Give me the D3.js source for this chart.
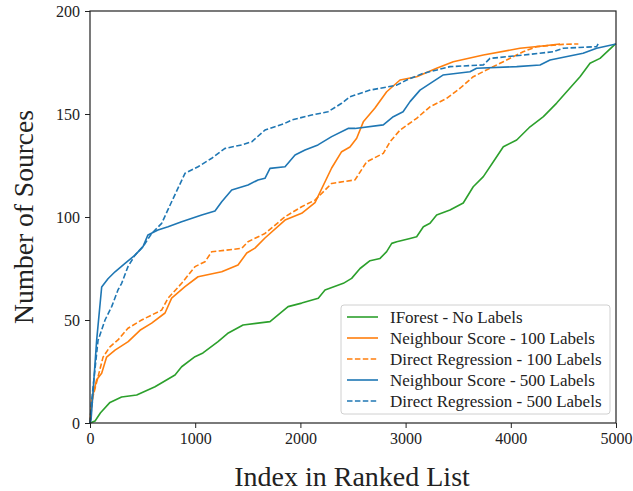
<!DOCTYPE html>
<html>
<head>
<meta charset="utf-8">
<script src="https://cdn.jsdelivr.net/npm/d3@7"></script>
<style>
  html, body { margin: 0; padding: 0; background: #fff; }
  svg { display: block; }
  text { font-family: "Liberation Serif", "DejaVu Serif", serif; fill: #222; }
</style>
</head>
<body>
<svg id="chart" width="633" height="491"></svg>
<script>
// Cumulative number of sources found versus position in the ranked list.
const iforestNoLabels = [
  [0,0],[48,1],[100,5],[190,10],[300,12.6],[444,13.6],[618,17.6],[808,23.3],[871,27.3],
  [998,32.2],[1074,34],[1217,39.5],[1315,43.7],[1455,47.6],[1711,49.2],[1883,56.5],
  [2012,58.2],[2170,60.6],[2234,64.6],[2408,67.8],[2487,70.2],[2567,75],[2662,78.8],
  [2757,79.9],[2820,83.2],[2868,87.2],[2916,88],[3042,89.6],[3105,90.4],[3169,95.3],
  [3232,97],[3295,101],[3422,103.4],[3548,106.8],[3643,114.7],[3739,119.6],[3834,126.8],
  [3929,134.1],[4056,137.4],[4183,143.8],[4310,148.7],[4436,155.3],[4531,160.8],
  [4658,168.1],[4753,174.6],[4848,177],[4990,183.8],[5000,184]
];
const neighbour100 = [
  [0,0],[16,11],[63,21],[111,24.2],[158,32],[238,35.4],[363,39.5],[475,45],[586,48.5],
  [713,53.4],[776,60.6],[903,66.2],[1027,71],[1252,73.4],[1407,76.7],[1490,82.5],
  [1568,84.9],[1663,89.8],[1854,98.5],[2012,101.8],[2139,107],[2297,123.8],[2392,131.7],
  [2471,134],[2535,138.2],[2598,146.2],[2709,152.9],[2820,160.8],[2947,166.5],
  [3105,168.1],[3295,172.2],[3453,175.4],[3739,178.6],[4087,181.9],[4300,183],[4468,184]
];
const direct100 = [
  [0,0],[28,12.8],[124,32],[190,37],[266,40.3],[361,46],[491,50],[681,54.8],[742,60.6],
  [871,67.8],[998,75.9],[1093,78.3],[1157,83.1],[1442,84.8],[1502,88],[1663,92],
  [1854,100.1],[2012,105],[2139,108.2],[2297,116.3],[2519,118],[2630,126.8],[2788,130.9],
  [2852,136.5],[2947,142.2],[3105,147.9],[3232,153.5],[3390,157.6],[3517,162.5],
  [3643,168.1],[3802,172.2],[3929,175.4],[4117,180.2],[4246,182.7],[4497,183.8],[4642,184]
];
const neighbour500 = [
  [0,0],[10,1.5],[63,40],[111,66],[171,70],[238,73.4],[333,77.5],[428,81.5],[504,85.6],
  [551,91.3],[646,93.7],[742,95.3],[871,97.7],[1062,101],[1188,102.9],[1252,107.4],
  [1347,113.1],[1502,115.5],[1597,118],[1663,118.8],[1711,123.6],[1854,124.4],
  [1949,130.1],[2044,132.5],[2167,135],[2297,139],[2453,143],[2519,143],[2788,144.7],
  [2883,148.7],[2976,151.1],[3042,156],[3137,161.6],[3260,165.7],[3355,168.9],
  [3612,170.5],[3675,172.2],[4056,173],[4278,173.8],[4373,176.2],[4687,179.5],
  [4816,181.9],[5000,184]
];
const direct500 = [
  [0,0],[16,11],[76,40],[143,50],[206,56.5],[266,64.6],[301,67.8],[361,75.9],[428,81.5],
  [504,85.6],[586,92],[681,96.9],[776,107.4],[903,121.2],[1027,124.4],[1157,128.5],
  [1283,133.3],[1442,135],[1537,136.5],[1663,142.2],[1854,145.5],[1917,147.1],
  [2107,149.5],[2262,151.1],[2392,155.2],[2471,158.4],[2519,159.2],[2662,161.6],
  [2915,164],[3010,166.5],[3166,169.7],[3422,173],[3739,173.8],[3802,177],[4117,178.6],
  [4402,180.2],[4497,181.9],[4816,182.7],[4830,184]
];

const seriesNames = [
  "IForest - No Labels",
  "Neighbour Score - 100 Labels",
  "Direct Regression - 100 Labels",
  "Neighbour Score - 500 Labels",
  "Direct Regression - 500 Labels"
];
const seriesData = [iforestNoLabels, neighbour100, direct100, neighbour500, direct500];
const seriesColors = ["#2ca02c", "#ff7f0e", "#ff7f0e", "#1f77b4", "#1f77b4"];
const seriesDashed = [false, false, true, false, true];

const xTicks = [0, 1000, 2000, 3000, 4000, 5000];
const yTicks = [0, 50, 100, 150, 200];

const svg = d3.select("#chart");
const margin = { left: 90, top: 11, right: 17, bottom: 68 };
const W = 633, H = 491;

const x = d3.scaleLinear().domain([0, 5000]).range([margin.left, W - margin.right]);
const y = d3.scaleLinear().domain([0, 200]).range([H - margin.bottom, margin.top]);

// Plot lines
const line = d3.line().x(d => x(d[0])).y(d => y(d[1]));
const plot = svg.append("g");
seriesData.forEach((data, i) => {
  plot.append("path")
    .datum(data)
    .attr("d", line)
    .attr("fill", "none")
    .attr("stroke", seriesColors[i])
    .attr("stroke-width", 1.6)
    .attr("stroke-linejoin", "round")
    .attr("stroke-dasharray", seriesDashed[i] ? "5.5,2.4" : null);
});

// Axes
const fmt = d3.format("d");
const xAxis = d3.axisBottom(x).tickValues(xTicks).tickFormat(fmt).tickSize(5).tickPadding(5);
const yAxis = d3.axisLeft(y).tickValues(yTicks).tickFormat(fmt).tickSize(5).tickPadding(5);

const gx = svg.append("g").attr("transform", `translate(0,${y(0)})`).call(xAxis);
const gy = svg.append("g").attr("transform", `translate(${x(0)},0)`).call(yAxis);
[gx, gy].forEach(g => {
  g.select(".domain").remove();
  g.selectAll(".tick line").attr("stroke", "#222").attr("stroke-width", 1);
  g.selectAll(".tick text")
    .attr("font-family", "Liberation Serif, DejaVu Serif, serif")
    .attr("font-size", 16)
    .attr("fill", "#222");
});

// Frame around the plotting area
svg.append("rect")
  .attr("x", x(0)).attr("y", y(200))
  .attr("width", x(5000) - x(0)).attr("height", y(0) - y(200))
  .attr("fill", "none").attr("stroke", "#222").attr("stroke-width", 1.2);

// Axis titles
svg.append("text")
  .attr("x", (x(0) + x(5000)) / 2 - 1).attr("y", 486)
  .attr("text-anchor", "middle")
  .attr("font-size", 28)
  .text("Index in Ranked List");
svg.append("text")
  .attr("transform", `translate(33,${(y(0) + y(200)) / 2}) rotate(-90)`)
  .attr("text-anchor", "middle")
  .attr("font-size", 27.5)
  .text("Number of Sources");

// Legend
const lg = svg.append("g").attr("transform", "translate(341,305)");
lg.append("rect")
  .attr("width", 269).attr("height", 109).attr("rx", 3)
  .attr("fill", "#fff").attr("fill-opacity", 0.85)
  .attr("stroke", "#d0d0d0").attr("stroke-width", 1);
seriesNames.forEach((name, i) => {
  const cy = 12 + i * 21;
  lg.append("line")
    .attr("x1", 6).attr("x2", 37).attr("y1", cy).attr("y2", cy)
    .attr("stroke", seriesColors[i]).attr("stroke-width", 1.6)
    .attr("stroke-dasharray", seriesDashed[i] ? "5.5,2.4" : null);
  lg.append("text")
    .attr("x", 49).attr("y", cy + 5.5)
    .attr("font-size", 17)
    .text(name);
});
</script>
</body>
</html>
